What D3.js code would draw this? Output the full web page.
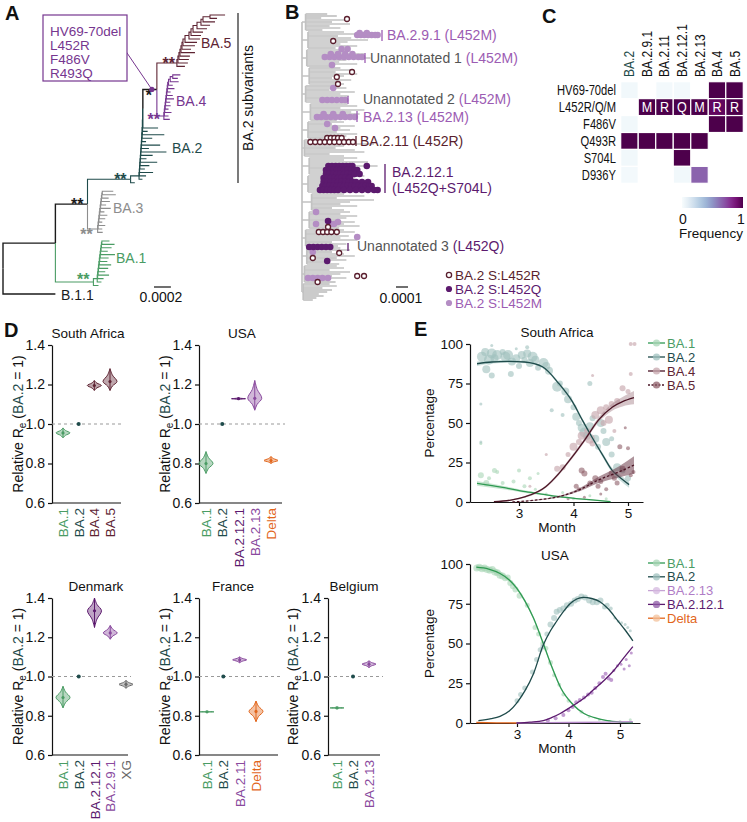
<!DOCTYPE html>
<html><head><meta charset="utf-8">
<script src="https://cdn.jsdelivr.net/npm/d3@7"></script>
<style>
body{margin:0;background:#fff;}
svg{display:block;font-family:'Liberation Sans',Arial,Helvetica,sans-serif;}
</style></head><body>
<svg id="fig" width="747" height="822"></svg>
<script>
// ---------------- DATA ----------------
// Panel A tree (branch lengths in units of 1e-4 substitutions/site)
const treeA_stems = {B11:6.2, Omi:6.2, BA1:4.5, N1:3.8, BA3:1.2, N2:5.1, BA2:1.0, N3:1.66, BA4:0.83, BA5:2.37};
const treeA_N2_tip = 0.5;
const treeA_BA5_tips = [1.78,0.83,1.42,1.07,1.18,1.18,1.18,1.3,1.42,1.42,1.07,1.66,1.18,1.18,1.18,0.95];
const treeA_BA5_steps = [0.12,0.12,0.12,0.12,0.12,0.12,0.24,0.47,0.24,0.24,0.47,0.47,0.24,0.83];
const treeA_BA4_tips = [0.9,0.6,1.0,0.5,0.8,0.4,0.7,0.9,0.5,0.6,0.4,0.8,0.5,0.7];
const treeA_BA4_steps = [0.05,0.05,0.05,0.05,0.05,0.05,0.05,0.05,0.05,0.1,0.2,0.3];
const treeA_BA2_tips = [1.8,0.6,2.6,1.2,0.5,2.2,0.9,3.0,1.4,0.7,2.0,1.1,0.6,1.6,0.8,0.4];
const treeA_BA2_steps = [0.03,0.03,0.03,0.03,0.03,0.03,0.03,0.03,0.03,0.03,0.03,0.03,0.03,0.03,0.03];
const treeA_BA3_tips = [1.3,1.6,0.8,1.0,0.6,1.2,0.5,0.9,0.7,0.4,0.8,0.5,0.6];
const treeA_BA3_steps = [0.05,0.05,0.05,0.05,0.05,0.05,0.05,0.05,0.05,0.05,0.05];
const treeA_BA1_tips = [0.9,1.5,1.2,0.8,1.7,1.0,0.9,1.4,1.1,0.8,1.3,0.7,0.5,0.6];
const treeA_BA1_steps = [0.45,0.05,0.05,0.05,0.05,0.05,0.05,0.05,0.05,0.05,0.05,0.05];
const treeA_mutations = ["HV69-70del","L452R","F486V","R493Q"];

// Panel B tree (depth in units of 1e-5), groups of tips along the backbone
const B_groups_base = [3,5,4,6,3,7,5,2,6,5,8,6,3,4,2,1];
const B_groups_tips = [
 [21,29,16,35,25,40,23,32,17],[35,48,30,41,55,38,32,46,28],[40,35,52,44,57,37,31,46,25],
 [32,40,28,46,35,25,41,30,35],[29,37,23,44,32,39,25,35,30],[38,46,32,52,41,48,35,44,29],
 [35,25,44,32,40,29,46,37,31],[40,32,60,35,28,44,52,23,35],[46,35,55,40,63,32,48,44,38],
 [52,44,35,48,57,40,32,46,37],[35,52,29,60,40,32,46,25,35],[40,32,46,37,29,44,35,48,31],
 [35,44,29,39,32,46,25,37,30],[32,40,25,35,44,29,37,23,31],[29,35,23,40,32,25,37,21,28],
 [23,29,17,25,21,14,18,12,9]];
// tips carrying S:L452M (depth, row)
const B_M_pts = [[46,10.5],[49,10.5],[52,10.5],[55,10.5],[58,10.5],[61,10.5],[63,10.5],[48,9.5],[54,9.5],
 [33,17.5],[38,17.5],
 [19,21.5],[23,21.5],[27,21.5],[31,21.5],[35,21.5],[39,21.5],[43,21.5],[47,21.5],[50,21.5],[24,20],[30,20],[36,20],[42,20],
 [25,25.5],[26,37],
 [17,43],[21,43],[25,43],[29,43],[33,43],[36,43],
 [12.5,51.5],[16,51.5],[20,51.5],[24,51.5],[28,51.5],[32,51.5],[36,51.5],[40,51.5],[44,51.5],[18,50],[26,50],[34,50],
 [21,55],[27.5,57],[11.7,99],[11.7,105],[23.3,105],[26.7,105],[30,104],[46,111.5],[9,119],
 [5,132],[9,132],[13,132],[17,132],[21.7,132]];
// tips carrying S:L452Q: BA.2.12.1 cluster rows, then others
const B_Q_blobRows = [76,78,80,82,84,86,88];
const B_Q_blobDepths = [
 [22,25,28,31,34,37,40,42,54],
 [20,23,26,29,32,35,38,41,44,46],
 [20,23,26,29,32,35,38,41,44,48],
 [18,21,24,27,30,33,36,39,40],
 [18,21,24,27,30,33,36,39,42,45,50,55],
 [17,20,23,26,29,32,35,38,41,44,47,50,53,56,58],
 [15,18,21,24,27,30,35,40,45,50,55,60,63]];
const B_Q_pts = [[21.7,103.5],[6,116.5],[9.5,116.5],[13,116.5],[16.5,116.5],[20,116.5],[23.5,116.5],[21,123.5]];
// tips carrying S:L452R
const B_R_pts = [[37.5,2.5],[26,13.5],[29,31.5],[41.7,29],[30,35],
 [21,62],[24,62],[27,62],[30,62],[33,62],
 [7,64],[11,64],[15,64],[19,64],[23,64],[27,64],[31,64],[35,64],[39,64],[42.5,64],
 [21.7,106.5],[14,109],[17.5,109],[21,109],[24.5,109],[29,109],
 [9,122],[31,119.5],[13,134],[46,131],[51.7,131]];

// Panel C heatmap
const C_cols = ["BA.2","BA.2.9.1","BA.2.11","BA.2.12.1","BA.2.13","BA.4","BA.5"];
const C_rows = ["HV69-70del","L452R/Q/M","F486V","Q493R","S704L","D936Y"];
const C_values = [
 [0.03,0,0.02,0.02,0,1,1],
 [0,1,1,1,1,0.95,1],
 [0.03,0,0,0,0,1,1],
 [1,1,1,1,1,0,0],
 [0.03,0,0,1,0,0,0],
 [0.02,0,0,0.03,0.65,0,0]];
const C_L452_letters = ["","M","R","Q","M","R","R"];

// Panel D relative Re
const D_yTicks = [0.6,0.8,1.0,1.2,1.4];
const D_SA_cats = ["BA.1","BA.2","BA.4","BA.5"];
const D_SA_med = [0.955,1.0,1.195,1.215];
const D_SA_lo  = [0.93,1.0,1.17,1.17];
const D_SA_hi  = [0.98,1.0,1.22,1.28];
const D_US_cats = ["BA.1","BA.2","BA.2.12.1","BA.2.13","Delta"];
const D_US_med = [0.80,1.0,1.128,1.13,0.815];
const D_US_lo  = [0.75,1.0,1.124,1.07,0.80];
const D_US_hi  = [0.86,1.0,1.132,1.22,0.835];
const D_DK_cats = ["BA.1","BA.2","BA.2.12.1","BA.2.9.1","XG"];
const D_DK_med = [0.893,1.0,1.335,1.222,0.96];
const D_DK_lo  = [0.84,1.0,1.25,1.19,0.94];
const D_DK_hi  = [0.95,1.0,1.40,1.26,0.98];
const D_FR_cats = ["BA.1","BA.2","BA.2.11","Delta"];
const D_FR_med = [0.82,1.0,1.085,0.822];
const D_FR_lo  = [0.817,1.0,1.07,0.77];
const D_FR_hi  = [0.823,1.0,1.10,0.875];
const D_BE_cats = ["BA.1","BA.2","BA.2.13"];
const D_BE_med = [0.84,1.0,1.063];
const D_BE_lo  = [0.836,1.0,1.045];
const D_BE_hi  = [0.844,1.0,1.08];

// Panel E lineage frequencies (month, percentage)
const E_yTicks = [0,25,50,75,100];
const E_xTicks = [3,4,5];
const E_SA_BA1 = [[2.23,11.8],[2.7,9.2],[3.12,6.5],[3.45,4.8],[3.73,3.4],[4.05,2.2],[4.34,1.3],[4.68,0.2]];
const E_SA_BA1_err = [1.5,1.1,0.8,0.6,0.5,0.4,0.3,0.2];
const E_SA_BA2 = [[2.23,87.5],[2.5,88.6],[2.82,89],[3.1,88.6],[3.43,85.6],[3.73,75],[3.98,63.5],[4.16,52],[4.34,41],[4.53,30],[4.71,20],[4.87,15],[5.02,11]];
const E_SA_BA2_err = [1.5,1,0.8,0.8,0.8,1,1.2,1.2,1.3,1.4,1.6,1.8,2];
const E_SA_BA4 = [[2.54,0.2],[2.85,1.2],[3.12,3.4],[3.49,9.7],[3.73,18],[3.98,28.7],[4.22,40],[4.46,52],[4.71,60],[4.9,63.5],[5.11,66]];
const E_SA_BA4_err = [0.2,0.4,0.6,0.8,1,1.2,1.3,1.6,2.2,3,4.2];
const E_SA_BA5 = [[2.88,0],[3.3,1.2],[3.73,3.4],[4.1,7.6],[4.46,14],[4.83,19],[5.11,23.4]];
const E_SA_BA5_err = [0.1,0.2,0.5,1,2,3.5,5.5];
const E_SA_BA2_pts = [[2.32,92,5],[2.38,95,4],[2.45,90,5],[2.5,94,5],[2.55,91,4],[2.6,93,5],[2.7,95,3],[2.75,92,5],[2.8,93,5],[2.87,89,4],[2.95,91,4],[3.0,86,3],[3.05,93,4],[3.1,90,3],[3.15,94,4],[3.2,88,4],[3.25,92,5],[3.3,90,4],[3.35,85,3],[3.45,88,5],[3.5,86,4],[3.55,83,4],[2.4,84,4],[2.5,80,3],[2.85,81,3],[3.15,98,2],[2.5,99,1.5],[2.95,97,1.5],[3.7,73,5],[3.75,75,3],[3.85,70,4],[3.9,65,4],[4.0,60,3],[4.05,54,4],[4.1,50,3],[4.15,47,4],[4.2,44,5],[4.25,42,4],[4.3,48,4],[4.35,53,3],[4.4,40,4],[4.45,35,3],[4.5,50,4],[4.55,45,3],[4.6,38,4],[4.7,30,3],[4.8,22,4],[4.9,20,3],[5.0,15,3],[4.3,75,2.5],[3.8,55,2],[3.6,58,2],[4.7,40,2.5],[2.3,62,1.5],[2.3,38,1.5]];
const E_SA_BA1_pts = [[2.3,17,3],[2.4,12,3],[2.45,15,2],[2.6,19,2],[2.7,12,2],[2.9,13,2],[3.0,20,2],[3.1,10,2],[3.2,15,2],[3.3,8,1.5],[3.5,5,1.5],[3.6,3,1.5],[3.8,6,1.5],[4.0,2,1.5],[4.3,4,1.5],[4.6,2,1.5],[2.3,37,1.5],[2.55,20,2.5],[3.35,18,1.5]];
const E_SA_BA4_pts = [[3.7,21,3],[3.8,22,3],[3.9,30,2.5],[4.0,35,4],[4.1,38,3],[4.15,42,4],[4.25,45,3],[4.3,40,5],[4.35,37,3],[4.4,55,4],[4.5,58,4],[4.55,50,3],[4.6,60,3],[4.65,52,4],[4.7,62,3],[4.8,64,3],[4.9,72,3],[5.0,70,2.5],[5.05,81,2],[5.05,100,2],[5.12,100,2],[4.75,45,2],[3.5,30,1.5],[3.2,10,1.5],[4.35,80,1.5]];
const E_SA_BA5_pts = [[4.05,10,2.5],[4.1,8,2],[4.15,20,3],[4.2,18,3],[4.3,12,2.5],[4.4,15,3],[4.45,10,2.5],[4.5,13,2.5],[4.6,8,2],[4.7,18,3],[4.75,15,2.5],[4.8,12,2.5],[4.85,35,2.5],[4.9,21,3],[5.0,34,2],[5.05,17,2],[5.1,19,2],[4.2,3,1.5],[4.5,5,1.5],[3.9,2,1.5],[4.95,47,1.5]];

const E_US_BA1 = [[2.21,98],[2.45,96.8],[2.67,94],[2.85,90],[2.99,85],[3.15,77],[3.32,66],[3.51,50],[3.68,35],[3.85,22],[4.09,11.5],[4.3,6],[4.49,3.5],[4.75,1.5],[5.0,0.6],[5.25,0.2]];
const E_US_BA1_err = [1.5,1.5,1.5,1.2,1,1,1,1,1,0.8,0.6,0.4,0.3,0.2,0.1,0.1];
const E_US_BA2 = [[2.25,1.5],[2.5,2.7],[2.67,4.2],[2.85,7.5],[2.99,12.4],[3.15,20],[3.32,31],[3.51,49],[3.65,58],[3.77,64],[3.9,70],[4.03,75],[4.16,78],[4.29,79],[4.45,78.3],[4.61,76.3],[4.78,71.5],[4.94,65],[5.1,58.5],[5.25,51.7]];
const E_US_B2121 = [[2.99,0],[3.25,0.6],[3.51,1.5],[3.68,3.5],[3.84,6],[4.09,11],[4.3,15.5],[4.49,21],[4.7,27],[4.88,33],[5.05,40],[5.25,48]];
const E_US_B213 = [[2.99,0],[4.0,0.3],[5.25,0.8]];
const E_US_Delta = [[2.21,0.3],[2.6,0.1],[3.0,0]];
const E_US_BA1_pts = [[2.22,97.5,3.5],[2.27,98,3.5],[2.32,97,3.5],[2.37,97.5,3.5],[2.42,96.5,3.5],[2.47,96,3.5],[2.52,96.5,3.5],[2.57,95,3.5],[2.62,94.5,3.5],[2.67,93,3.5],[2.72,92.5,3.5],[2.77,91,3],[2.82,91.5,3],[2.87,88,3],[2.92,86,3],[2.97,84,3],[3.05,80,3],[3.2,74,2.5],[3.35,60,2.5],[3.42,56,2.5],[3.5,50,2.5],[3.56,47,2.5],[3.65,38,2.5],[3.72,30,2],[3.82,24,2],[3.9,18,2],[4.0,14,2],[4.1,11,2],[4.25,7,2],[4.4,4,1.5],[4.6,2,1.5],[4.8,1,1.5],[5.0,1,1.5],[5.2,2,1.5]];
const E_US_BA2_pts = [[3.0,14,2.5],[3.07,18,2.5],[3.15,22,2.5],[3.3,32,2.5],[3.38,40,2.5],[3.45,46,2.5],[3.5,48,2.5],[3.58,56,2.5],[3.65,62,3],[3.72,66,3],[3.77,70,3],[3.83,71,3],[3.9,72,3],[3.97,74,3],[4.05,75,3],[4.12,77,3],[4.18,78,3],[4.25,79.5,3],[4.32,79,3],[4.4,77,3],[4.47,76,3],[4.55,76,3],[4.62,77,3],[4.7,73,2.5],[4.75,74,2.5],[4.82,72,2],[4.9,66,1.5],[4.97,64,1.5],[5.03,63,1.5],[5.1,62,1.5],[5.15,60,1.5],[5.2,58,1.5]];
const E_US_B2121_pts = [[3.6,1.5,2],[3.75,3,2],[3.9,5,2],[4.0,8,2],[4.08,10,2],[4.15,13,2],[4.22,14.5,2],[4.3,16,2],[4.38,18,2],[4.45,19,2],[4.52,22,2],[4.6,25,2],[4.67,29,2],[4.72,31,2],[4.78,28,2],[4.83,27,2],[4.88,33,1.5],[4.95,36,1.5],[5.02,37,1.5],[5.08,34,1.5],[5.12,40,1.5],[5.18,36,1.5],[5.22,44,1.5]];

// ---------------- STYLE ----------------
const COL = {BA1:"#4a9c64", BA2:"#1f4b4b", BA3:"#8d8d8d", BA4:"#76368f", BA5:"#5e2433",
  black:"#1b1b1b", Q:"#5c1a6e", M:"#b48dc4", Mtext:"#9c5cb3", R:"#5a1f2e", delta:"#e2661c", XG:"#6a6a6a", gray:"#555"};
const svg = d3.select("#fig");

function txt(g, x, y, s, o = {}) {
  const t = g.append("text").attr("x", x).attr("y", y).text(s)
    .attr("font-size", o.size || 13).attr("fill", o.fill || "#111")
    .attr("text-anchor", o.anchor || "start");
  if (o.weight) t.attr("font-weight", o.weight);
  if (o.squeeze) {
    t.attr("x", 0).attr("y", 0)
     .attr("transform", `translate(${x},${y})${o.rotate ? ` rotate(${o.rotate})` : ""} scale(${o.squeeze},1)`);
  } else if (o.rotate) t.attr("transform", `rotate(${o.rotate},${x},${y})`);
  return t;
}
// panel letters
txt(svg, 5, 20, "A", {size: 20, weight: "bold"});
txt(svg, 285, 19, "B", {size: 20, weight: "bold"});
txt(svg, 542, 23, "C", {size: 20, weight: "bold"});
txt(svg, 4, 337, "D", {size: 20, weight: "bold"});
txt(svg, 414, 336, "E", {size: 20, weight: "bold"});

// ---------------- PANEL A ----------------
function ladder(clade, items, steps, stem) {
  const n = items.length;
  const mk = it => (typeof it === "number") ? {len: it, clade} : it;
  const st = k => (steps && steps[k] != null) ? steps[k] : 0;
  let node = {len: n >= 3 ? st(n - 3) : stem, clade, children: [mk(items[0]), mk(items[1])]};
  for (let k = n - 3; k >= 0; k--) {
    node = {len: k >= 1 ? st(k - 1) : stem, clade, children: [node, mk(items[n - 1 - k])]};
  }
  return node;
}
(function panelA() {
  const g = svg.append("g");
  const nBA5 = ladder("BA5", treeA_BA5_tips, treeA_BA5_steps, treeA_stems.BA5); nBA5.id = "BA5";
  const nBA4 = ladder("BA4", treeA_BA4_tips, treeA_BA4_steps, treeA_stems.BA4); nBA4.id = "BA4";
  const nN3 = {id: "N3", len: treeA_stems.N3, clade: "black", children: [nBA5, nBA4]};
  const nBA2 = ladder("BA2", [nN3, ...treeA_BA2_tips], treeA_BA2_steps, treeA_stems.BA2); nBA2.id = "BA2";
  const nN2 = {id: "N2", len: treeA_stems.N2, clade: "BA2", children: [nBA2, {len: treeA_N2_tip, clade: "BA2"}]};
  const nBA3 = ladder("BA3", treeA_BA3_tips, treeA_BA3_steps, treeA_stems.BA3); nBA3.id = "BA3";
  const nN1 = {id: "N1", len: treeA_stems.N1, clade: "black", children: [nN2, nBA3]};
  const nBA1 = ladder("BA1", treeA_BA1_tips, treeA_BA1_steps, treeA_stems.BA1); nBA1.id = "BA1";
  const nOmi = {id: "Omi", len: treeA_stems.Omi, clade: "black", children: [nN1, nBA1]};
  const nB11 = {id: "B11", len: treeA_stems.B11, clade: "black"};
  const root = d3.hierarchy({id: "root", len: 0, clade: "black", children: [nOmi, nB11]});
  root.each(d => { d.dist = d.parent ? d.parent.dist + d.data.len : 0; });
  let pos = -1, prev = null;
  root.leaves().forEach(l => { pos += (prev && prev !== l.data.clade) ? 2.5 : 1; l.lp = pos; prev = l.data.clade; });
  const y = d3.scaleLinear().domain([0, pos]).range([15, 294]);
  const x = d3.scaleLinear().domain([0, 2]).range([3, 3 + 16.9]);
  root.eachAfter(d => { d.y = d.children ? (d.children[0].y + d.children[d.children.length - 1].y) / 2 : y(d.lp); });
  g.selectAll("path.e").data(root.descendants().filter(d => d.parent)).join("path")
    .attr("d", d => `M${x(d.parent.dist)},${d.parent.y}V${d.y}H${x(d.dist)}`)
    .attr("fill", "none").attr("stroke", d => COL[d.data.clade]).attr("stroke-width", d => d.data.clade === "black" ? 1.4 : 1.1);
  const byId = {}; root.each(d => { if (d.data.id) byId[d.data.id] = d; });
  // support asterisks
  const sup = [["BA5", "**", COL.BA5, 0, 0], ["N3", "*", COL.black, -3, 6], ["BA4", "**", COL.BA4, -2, 3], ["N2", "**", COL.BA2, -2, 0],
               ["N1", "**", COL.black, -2, 0], ["BA3", "**", COL.BA3, -3, 5], ["BA1", "**", COL.BA1, -2, -3]];
  sup.forEach(([id, s, c, dx, dy]) => {
    const d = byId[id];
    txt(g, x(d.dist) + dx - 2, d.y + 6 + dy, s, {size: 16, weight: "bold", fill: c, anchor: "end"});
  });
  // mutation box
  const n3 = byId.N3;
  const mx = x(n3.dist) - 5, my = n3.y;
  g.append("line").attr("x1", 125).attr("y1", 50).attr("x2", mx).attr("y2", my).attr("stroke", COL.BA4).attr("stroke-width", 1);
  g.append("circle").attr("cx", mx).attr("cy", my).attr("r", 2.6).attr("fill", COL.BA4);
  g.append("rect").attr("x", 43).attr("y", 15).attr("width", 84).attr("height", 66).attr("fill", "#fff").attr("stroke", COL.BA4).attr("stroke-width", 1.2);
  treeA_mutations.forEach((m, i) => txt(g, 50, 35.5 + i * 14, m, {size: 12.5, fill: COL.BA4, squeeze: 1.08}));
  // clade labels
  [["BA.5", 201, 48, COL.BA5], ["BA.4", 176, 106, COL.BA4], ["BA.2", 172, 153, COL.BA2], ["BA.3", 113, 213, COL.BA3],
   ["BA.1", 116, 263, COL.BA1], ["B.1.1", 61, 300, COL.black]].forEach(([s, lx, ly, c]) => txt(g, lx, ly, s, {size: 14, fill: c}));
  g.append("line").attr("x1", 238).attr("x2", 238).attr("y1", 13).attr("y2", 183).attr("stroke", "#222").attr("stroke-width", 1.2);
  txt(g, 253, 98, "BA.2 subvariants", {size: 14, anchor: "middle", rotate: -90});
  // scale bar
  g.append("line").attr("x1", 154).attr("x2", 154 + x(2) - x(0)).attr("y1", 287).attr("y2", 287).attr("stroke", "#111").attr("stroke-width", 1.2);
  txt(g, 161, 302, "0.0002", {size: 14, anchor: "middle"});
})();

// ---------------- PANEL B ----------------
(function panelB() {
  const g = svg.append("g");
  const x = d3.scaleLinear().domain([0, 10]).range([302, 314]);
  const y = d3.scaleLinear().domain([0, 143]).range([14, 300]);
  let row = 0;
  const mids = [];
  B_groups_tips.forEach((tips, gi) => {
    const base = B_groups_base[gi];
    const r0 = row, r1 = row + tips.length - 1;
    const mid = (r0 + r1) / 2; mids.push(mid);
    g.append("path").attr("d", `M${x(0)},${y(mid)}H${x(base)}M${x(base)},${y(r0)}V${y(r1)}`)
      .attr("stroke", "#c2c2c2").attr("stroke-width", 1.7).attr("fill", "none");
    g.selectAll(null).data(tips).join("line")
      .attr("x1", x(base)).attr("x2", d => x(d))
      .attr("y1", (d, i) => y(r0 + i)).attr("y2", (d, i) => y(r0 + i))
      .attr("stroke", "#c2c2c2").attr("stroke-width", 1.7);
    row += tips.length;
  });
  g.append("line").attr("x1", x(0)).attr("x2", x(0)).attr("y1", y(mids[0])).attr("y2", y(mids[mids.length - 1])).attr("stroke", "#c2c2c2").attr("stroke-width", 1.7);
  // dots
  g.selectAll("circle.m").data(B_M_pts).join("circle").attr("cx", d => x(d[0])).attr("cy", d => y(d[1])).attr("r", 3.3).attr("fill", COL.M);
  const blob = [];
  B_Q_blobRows.forEach((r, i) => B_Q_blobDepths[i].forEach(dd => blob.push([dd, r])));
  g.selectAll("circle.q").data(blob.concat(B_Q_pts)).join("circle").attr("cx", d => x(d[0])).attr("cy", d => y(d[1])).attr("r", 3.3).attr("fill", COL.Q);
  g.selectAll("circle.r").data(B_R_pts).join("circle").attr("cx", d => x(d[0])).attr("cy", d => y(d[1])).attr("r", 2.5)
    .attr("fill", "#fff").attr("stroke", COL.R).attr("stroke-width", 1.3);
  // labels with bars
  const bar = (bx, y1, y2, c) => g.append("line").attr("x1", bx).attr("x2", bx).attr("y1", y1).attr("y2", y2).attr("stroke", c).attr("stroke-width", 1.3);
  bar(382, 30, 41, COL.Mtext); txt(g, 387, 40, "BA.2.9.1 (L452M)", {size: 14, fill: COL.Mtext});
  bar(365, 53, 63, COL.Mtext);
  let t = txt(g, 370, 63, "Unannotated 1 ", {size: 14, fill: COL.gray}); t.append("tspan").attr("fill", COL.Mtext).text("(L452M)");
  bar(348, 96, 104, COL.Mtext);
  t = txt(g, 363, 104, "Unannotated 2 ", {size: 14, fill: COL.gray}); t.append("tspan").attr("fill", COL.Mtext).text("(L452M)");
  bar(357, 111, 122, COL.Mtext); txt(g, 363, 122, "BA.2.13 (L452M)", {size: 14, fill: COL.Mtext});
  bar(356, 136, 146, COL.R); txt(g, 360, 146, "BA.2.11 (L452R)", {size: 14, fill: COL.R});
  bar(385, 164, 193, COL.Q); txt(g, 392, 177, "BA.2.12.1", {size: 14, fill: COL.Q}); txt(g, 392, 193, "(L452Q+S704L)", {size: 14, fill: COL.Q});
  bar(348, 243, 251, COL.Q);
  t = txt(g, 357, 251, "Unannotated 3 ", {size: 14, fill: COL.gray}); t.append("tspan").attr("fill", COL.Q).text("(L452Q)");
  // legend
  const lg = [["BA.2 S:L452R", "R"], ["BA.2 S:L452Q", "Q"], ["BA.2 S:L452M", "M"]];
  lg.forEach(([s, k], i) => {
    const ly = 275 + i * 14;
    const c = g.append("circle").attr("cx", 449).attr("cy", ly).attr("r", k === "R" ? 2.6 : 3.1);
    if (k === "R") c.attr("fill", "#fff").attr("stroke", COL.R).attr("stroke-width", 1.3); else c.attr("fill", COL[k]);
    txt(g, 455, ly + 5, s, {size: 13.5, fill: k === "M" ? COL.Mtext : COL[k]});
  });
  g.append("line").attr("x1", 396).attr("x2", 396 + x(10) - x(0)).attr("y1", 287).attr("y2", 287).attr("stroke", "#111").attr("stroke-width", 1.2);
  txt(g, 401, 303, "0.0001", {size: 14, anchor: "middle"});
})();

// ---------------- PANEL C ----------------
(function panelC() {
  const g = svg.append("g");
  const x = d3.scaleBand().domain(C_cols).range([620.7, 743.3]);
  const y = d3.scaleBand().domain(C_rows).range([81.7, 183.3]);
  const color = v => d3.interpolateBuPu(v);
  C_rows.forEach((r, i) => C_cols.forEach((c, j) => {
    const v = C_values[i][j];
    if (v > 0) g.append("rect").attr("x", x(c)).attr("y", y(r)).attr("width", x.bandwidth()).attr("height", y.bandwidth())
      .attr("fill", color(v)).attr("stroke", "#fff").attr("stroke-width", 1.2);
  }));
  C_cols.forEach((c, j) => {
    if (C_L452_letters[j]) txt(g, x(c) + x.bandwidth() / 2, y("L452R/Q/M") + y.bandwidth() / 2 + 5, C_L452_letters[j], {size: 14, fill: "#fff", anchor: "middle", squeeze: 0.9});
    txt(g, x(c) + x.bandwidth() / 2 + 5, 77, c, {size: 14, rotate: -90, fill: c === "BA.2" ? COL.BA2 : "#111", squeeze: 0.86});
  });
  C_rows.forEach(r => txt(g, 616, y(r) + y.bandwidth() / 2 + 5, r, {size: 14, anchor: "end", squeeze: 0.8}));
  const grad = svg.append("defs").append("linearGradient").attr("id", "bupu");
  d3.range(0, 1.0001, 0.1).forEach(v => grad.append("stop").attr("offset", v).attr("stop-color", color(v)));
  g.append("rect").attr("x", 682).attr("y", 197).attr("width", 61).attr("height", 11).attr("fill", "url(#bupu)");
  txt(g, 683, 224, "0", {size: 14, anchor: "middle"});
  txt(g, 741, 224, "1", {size: 14, anchor: "middle"});
  txt(g, 711, 238, "Frequency", {size: 13.5, anchor: "middle"});
})();

// ---------------- PANEL D ----------------
const D_color = {"BA.1": COL.BA1, "BA.2": COL.BA2, "BA.4": COL.BA5, "BA.5": COL.BA5, "BA.2.12.1": "#5c1a6e",
  "BA.2.13": "#8a4a9e", "BA.2.9.1": "#8a4a9e", "BA.2.11": "#8a4a9e", "Delta": COL.delta, "XG": COL.XG};
function violinPanel(o) {
  const g = svg.append("g");
  const y = d3.scaleLinear().domain([0.6, 1.4]).range([o.yBot, o.yTop]);
  const x = d3.scalePoint().domain(o.cats).range([o.firstX, o.lastX]);
  const ax = g.append("g").attr("transform", `translate(${o.axisX},0)`)
    .call(d3.axisLeft(y).tickValues(D_yTicks).tickFormat(d3.format(".1f")).tickSize(4).tickSizeOuter(0).tickPadding(3));
  ax.selectAll("text").attr("font-size", 14).attr("fill", "#111").attr("font-family", null);
  ax.selectAll("path,line").attr("stroke", "#111").attr("stroke-width", 1.2);
  g.append("line").attr("x1", o.axisX).attr("x2", o.axisEnd).attr("y1", o.yBot).attr("y2", o.yBot).attr("stroke", "#111").attr("stroke-width", 1.2);
  g.append("line").attr("x1", o.axisX).attr("x2", o.axisEnd + 3).attr("y1", y(1)).attr("y2", y(1)).attr("stroke", "#999").attr("stroke-dasharray", "3,3");
  txt(g, o.titleX, o.yTop - 7, o.title, {size: 13.5, anchor: "middle"});
  const yl = txt(g, o.ylabX, (o.yTop + o.yBot) / 2, "Relative R", {size: 14, anchor: "middle", rotate: -90});
  yl.append("tspan").attr("font-size", 10).attr("dy", 3).text("e");
  yl.append("tspan").attr("dy", -3).text(" (");
  yl.append("tspan").attr("fill", COL.BA2).text("BA.2");
  yl.append("tspan").text(" = 1)");
  const prof = [[0, 0], [0.25, 0.35], [0.5, 1], [0.75, 0.35], [1, 0]];
  o.cats.forEach((c, i) => {
    const cx = x(c), col = D_color[c];
    txt(g, cx + 5, o.yBot + 5, c, {size: 13.5, anchor: "end", rotate: -90, fill: col});
    if (o.hi[i] - o.lo[i] < 1e-6) {
      g.append("circle").attr("cx", cx).attr("cy", y(o.med[i])).attr("r", 2).attr("fill", col);
      return;
    }
    const pts = prof.map(([t, w]) => {
      const v = t <= 0.5 ? o.lo[i] + (o.med[i] - o.lo[i]) * t * 2 : o.med[i] + (o.hi[i] - o.med[i]) * (t - 0.5) * 2;
      return [v, w];
    });
    const area = d3.area().curve(d3.curveCatmullRom).y(d => y(d[0])).x0(d => cx - 7 * d[1]).x1(d => cx + 7 * d[1]);
    g.append("path").attr("d", area(pts)).attr("fill", col).attr("fill-opacity", 0.4).attr("stroke", col).attr("stroke-width", 1);
    g.append("line").attr("x1", cx).attr("x2", cx).attr("y1", y(o.lo[i])).attr("y2", y(o.hi[i])).attr("stroke", col).attr("stroke-width", 1);
    g.append("circle").attr("cx", cx).attr("cy", y(o.med[i])).attr("r", 1.6).attr("fill", col);
  });
}
violinPanel({title: "South Africa", cats: D_SA_cats, med: D_SA_med, lo: D_SA_lo, hi: D_SA_hi, axisX: 52, axisEnd: 121, firstX: 63, lastX: 110, yTop: 345, yBot: 503, titleX: 88, ylabX: 23});
violinPanel({title: "USA", cats: D_US_cats, med: D_US_med, lo: D_US_lo, hi: D_US_hi, axisX: 199, axisEnd: 282, firstX: 206, lastX: 271, yTop: 345, yBot: 503, titleX: 242, ylabX: 170});
violinPanel({title: "Denmark", cats: D_DK_cats, med: D_DK_med, lo: D_DK_lo, hi: D_DK_hi, axisX: 52, axisEnd: 128, firstX: 63, lastX: 126, yTop: 598, yBot: 755, titleX: 96, ylabX: 23});
violinPanel({title: "France", cats: D_FR_cats, med: D_FR_med, lo: D_FR_lo, hi: D_FR_hi, axisX: 199, axisEnd: 278, firstX: 207, lastX: 256, yTop: 598, yBot: 755, titleX: 233, ylabX: 170});
violinPanel({title: "Belgium", cats: D_BE_cats, med: D_BE_med, lo: D_BE_lo, hi: D_BE_hi, axisX: 328, axisEnd: 380, firstX: 337, lastX: 369, yTop: 598, yBot: 755, titleX: 354, ylabX: 298});

// ---------------- PANEL E ----------------
function trendPanel(o) {
  const g = svg.append("g");
  const x = o.x, y = o.y;
  const ax = g.append("g").attr("transform", `translate(${x.range()[0]},0)`)
    .call(d3.axisLeft(y).tickValues(E_yTicks).tickSize(4).tickSizeOuter(0).tickPadding(3));
  const bx = g.append("g").attr("transform", `translate(0,${y.range()[0]})`)
    .call(d3.axisBottom(x).tickValues(E_xTicks).tickFormat(d3.format("d")).tickSize(4).tickSizeOuter(0).tickPadding(2));
  [ax, bx].forEach(a => { a.selectAll("text").attr("font-size", 13.5).attr("fill", "#111").attr("font-family", null);
    a.selectAll("path,line").attr("stroke", "#111").attr("stroke-width", 1.2); });
  txt(g, o.titleX, o.titleY, o.title, {size: 13.5, anchor: "middle"});
  txt(g, 557, y.range()[0] + 30, "Month", {size: 13.5, anchor: "middle"});
  txt(g, 434, (y.range()[0] + y.range()[1]) / 2, "Percentage", {size: 13.5, anchor: "middle", rotate: -90});
  o.scatter.forEach(s => g.selectAll(null).data(s.pts).join("circle")
    .attr("cx", d => x(d[0])).attr("cy", d => y(d[1])).attr("r", d => d[2]).attr("fill", s.color).attr("fill-opacity", s.op));
  o.curves.forEach(c => {
    if (c.err) {
      const band = d3.area().curve(d3.curveMonotoneX).x(d => x(d[0])).y0((d, i) => y(Math.max(0, d[1] - c.err[i]))).y1((d, i) => y(d[1] + c.err[i]));
      g.append("path").attr("d", band(c.pts)).attr("fill", c.band).attr("fill-opacity", c.bandOp);
    }
    const line = d3.line().curve(d3.curveMonotoneX).x(d => x(d[0])).y(d => y(d[1]));
    g.append("path").attr("d", line(c.pts)).attr("fill", "none").attr("stroke", c.color).attr("stroke-width", 1.3)
      .attr("stroke-dasharray", c.dash || null);
  });
  o.legend.forEach((l, i) => {
    const ly = o.legY + i * o.legStep;
    g.append("line").attr("x1", 648).attr("x2", 665).attr("y1", ly).attr("y2", ly).attr("stroke", l.line).attr("stroke-width", 1.3).attr("stroke-dasharray", l.dash || null);
    g.append("circle").attr("cx", 656.5).attr("cy", ly).attr("r", 3.6).attr("fill", l.pt).attr("fill-opacity", 0.75);
    txt(g, 667, ly + 4.5, l.name, {size: 13, fill: l.text});
  });
}
const xSA = d3.scaleLinear().domain([3, 5]).range([519, 628]);
trendPanel({title: "South Africa", titleX: 557, titleY: 337,
  x: d3.scaleLinear().domain([xSA.invert(470), xSA.invert(643)]).range([470, 643]),
  y: d3.scaleLinear().domain([0, 100]).range([502, 344]),
  scatter: [{pts: E_SA_BA1_pts, color: "#a8d5b5", op: 0.6}, {pts: E_SA_BA2_pts, color: "#9fc0bd", op: 0.6},
            {pts: E_SA_BA4_pts, color: "#c7a7ad", op: 0.65}, {pts: E_SA_BA5_pts, color: "#8e5d68", op: 0.6}],
  curves: [{pts: E_SA_BA1, err: E_SA_BA1_err, color: "#2f9a52", band: "#a8d5b5", bandOp: 0.6},
           {pts: E_SA_BA2, err: E_SA_BA2_err, color: COL.BA2, band: "#a9c9c6", bandOp: 0.6},
           {pts: E_SA_BA4, err: E_SA_BA4_err, color: "#4a1424", band: "#a27d86", bandOp: 0.45},
           {pts: E_SA_BA5, err: E_SA_BA5_err, color: "#4a1424", band: "#6e3c4a", bandOp: 0.55, dash: "2.5,2"}],
  legY: 343, legStep: 14,
  legend: [{name: "BA.1", line: "#2f9a52", pt: "#a8d5b5", text: COL.BA1}, {name: "BA.2", line: COL.BA2, pt: "#9fc0bd", text: COL.BA2},
           {name: "BA.4", line: "#4a1424", pt: "#c7a7ad", text: COL.BA5}, {name: "BA.5", line: "#4a1424", pt: "#8e5d68", text: COL.BA5, dash: "2,1.5"}]});
const xUS = d3.scaleLinear().domain([3, 5]).range([517, 620]);
trendPanel({title: "USA", titleX: 555, titleY: 560,
  x: d3.scaleLinear().domain([xUS.invert(470), xUS.invert(640)]).range([470, 640]),
  y: d3.scaleLinear().domain([0, 100]).range([723, 564]),
  scatter: [{pts: E_US_BA1_pts, color: "#a8d5b5", op: 0.6}, {pts: E_US_BA2_pts, color: "#9fc0bd", op: 0.6},
            {pts: E_US_B2121_pts, color: "#a874bd", op: 0.7}],
  curves: [{pts: E_US_Delta, color: COL.delta},
           {pts: E_US_BA1, err: E_US_BA1_err, color: "#2f9a52", band: "#a8d5b5", bandOp: 0.6},
           {pts: E_US_BA2, color: COL.BA2},
           {pts: E_US_B213, color: "#b88ccb"},
           {pts: E_US_B2121, color: "#5c1a6e"}],
  legY: 563, legStep: 13.8,
  legend: [{name: "BA.1", line: "#2f9a52", pt: "#a8d5b5", text: COL.BA1}, {name: "BA.2", line: COL.BA2, pt: "#9fc0bd", text: COL.BA2},
           {name: "BA.2.13", line: "#c6a3d4", pt: "#d4b8df", text: "#b07cc6"}, {name: "BA.2.12.1", line: "#5c1a6e", pt: "#8e5aa6", text: "#5c1a6e"},
           {name: "Delta", line: COL.delta, pt: "#f3c09a", text: COL.delta}]});
</script></body></html>
